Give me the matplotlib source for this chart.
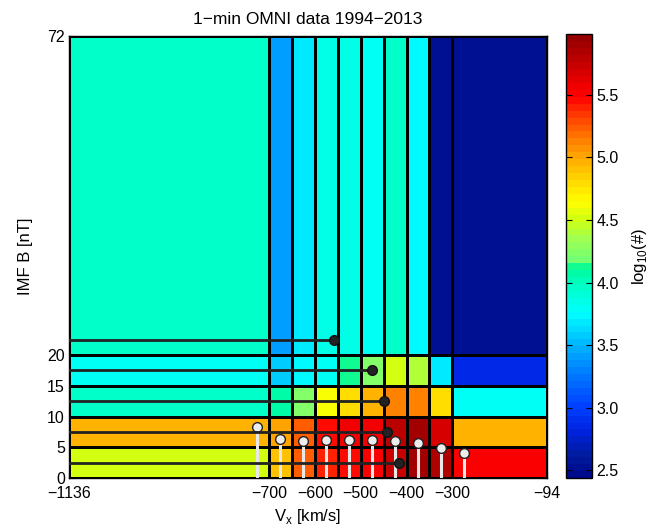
import numpy as np
import matplotlib
matplotlib.use("Agg")
import matplotlib.pyplot as plt
from matplotlib.colors import LinearSegmentedColormap

plt.rcParams['font.family'] = ['Liberation Sans', 'DejaVu Sans']
plt.rcParams['font.size'] = 12
plt.rcParams['axes.unicode_minus'] = True

# bin edges
vx_edges = [-1136, -700, -650, -600, -550, -500, -450, -400, -350, -300, -94]
b_edges = [0, 5, 10, 15, 20, 72]

# log10 of counts per bin, rows = IMF B bins, columns = Vx bins
log_counts = [
    [4.49, 4.90, 5.24, 5.42, 5.48, 5.52, 5.72, 5.87, 5.85, 5.52],
    [4.97, 5.00, 5.24, 5.45, 5.55, 5.55, 5.78, 5.88, 5.70, 4.97],
    [3.95, 4.07, 4.22, 4.61, 4.79, 4.97, 5.10, 5.10, 4.79, 3.82],
    [3.77, 3.58, 3.72, 3.80, 4.10, 4.22, 4.50, 4.40, 3.67, 2.85],
    [3.94, 3.41, 3.68, 3.85, 3.85, 3.77, 3.95, 3.73, 2.55, 2.52],
]

# median B for each Vx bin
vx_mid = [-725, -675, -625, -575, -525, -475, -425, -375, -325, -275]
b_median = [8.26, 6.30, 6.03, 6.24, 6.24, 6.24, 6.07, 5.70, 4.89, 4.12]

# median Vx for each B bin
b_mid = [2.5, 7.5, 12.5, 17.5, 22.4]
vx_median = [-416, -443, -449, -476, -558]

vmin, vmax = 2.44, 5.98

# jet-like palette, 64 steps
stops = [
    (2.44, (0, 10, 140)), (2.60, (0, 28, 160)), (2.80, (0, 35, 225)),
    (3.00, (0, 65, 255)), (3.25, (0, 120, 255)), (3.50, (0, 185, 255)),
    (3.75, (0, 255, 255)), (4.00, (0, 255, 190)), (4.12, (0, 250, 150)),
    (4.16, (110, 255, 120)), (4.35, (160, 255, 80)), (4.50, (205, 255, 20)),
    (4.65, (255, 255, 0)), (4.85, (255, 210, 0)), (5.00, (255, 170, 0)),
    (5.20, (255, 110, 0)), (5.35, (255, 60, 0)), (5.50, (255, 0, 0)),
    (5.60, (240, 0, 0)), (5.80, (190, 0, 0)), (5.98, (150, 0, 0)),
]
cmap = LinearSegmentedColormap.from_list(
    'jet_like',
    [((v - vmin) / (vmax - vmin), tuple(c / 255 for c in rgb)) for v, rgb in stops],
    N=64)

fig = plt.figure(figsize=(6.52, 5.31), dpi=100)
ax = fig.add_axes([0.1058, 0.0998, 0.733, 0.8333])
cax = fig.add_axes([0.868, 0.0998, 0.040, 0.8353])

mesh = ax.pcolormesh(vx_edges, b_edges, np.array(log_counts), cmap=cmap,
                     vmin=vmin, vmax=vmax, edgecolors='k', linewidth=0.8)

# white stems: median B per Vx bin
for x, b in zip(vx_mid, b_median):
    ax.plot([x, x], [0, b], color='#e8e8e8', lw=2.2, zorder=3)
ax.plot(vx_mid, b_median, 'o', ms=7, mfc='#ececec', mec='#222222',
        mew=1.0, zorder=4)

# dark stems: median Vx per B bin
for b, x in zip(b_mid, vx_median):
    ax.plot([vx_edges[0], x], [b, b], color='#222222', lw=2.0, zorder=5)
ax.plot(vx_median, b_mid, 'o', ms=7, mfc='#222222', mec='#111111',
        mew=1.0, zorder=6)

ax.set_xlim(vx_edges[0], vx_edges[-1])
ax.set_ylim(b_edges[0], b_edges[-1])
ax.set_xticks([-1136, -700, -600, -500, -400, -300, -94])
ax.set_yticks([0, 5, 10, 15, 20, 72])
ax.tick_params(axis='x', direction='in', length=4, top=True, pad=6,
               labelsize=11.5)
ax.tick_params(axis='y', direction='in', length=4, right=True, pad=3,
               labelsize=11.5)
for s in ax.spines.values():
    s.set_linewidth(1.0)

ax.set_title('1\u2212min OMNI data 1994\u22122013', fontsize=12.5, pad=8.5)
ax.set_xlabel('V$_{\\mathregular{x}}$ [km/s]', labelpad=4)
ax.set_ylabel('IMF B [nT]', labelpad=10)

cb = fig.colorbar(mesh, cax=cax)
cb.set_ticks([2.5, 3, 3.5, 4, 4.5, 5, 5.5])
cb.ax.tick_params(direction='in', length=4, left=True, right=True, pad=3,
                  labelsize=11.5)
cb.outline.set_linewidth(1.0)
cb.set_label('log$_{\\mathregular{10}}$(#)', labelpad=8)

fig.savefig('out.png', dpi=100)
